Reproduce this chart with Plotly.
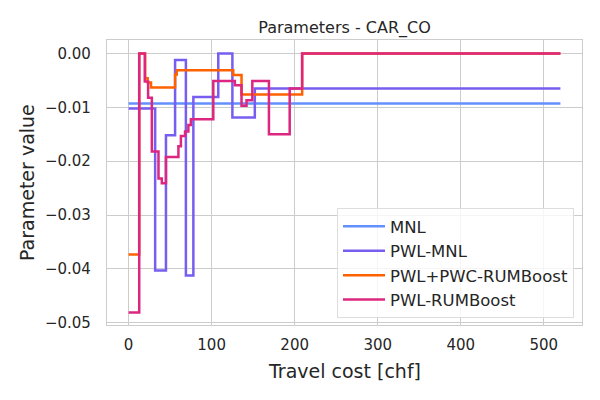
import plotly.graph_objects as go

# ---- data ----
cost_mnl = [0, 520]
val_mnl = [-0.0093, -0.0093]

cost_pwl_mnl = [0, 32, 45, 56, 69, 78, 108, 125, 152, 520]
val_pwl_mnl = [-0.0102, -0.0403, -0.0152, -0.0012, -0.0412, -0.0081, 0.0000, -0.0119, -0.0065, -0.0065]

cost_pwc = [0, 12.8, 20, 23, 27, 56, 58, 126, 136, 209, 520]
val_pwc = [-0.0373, 0.0, -0.0046, -0.0054, -0.0063, -0.0039, -0.0031, -0.0040, -0.0076, 0.0, 0.0]

cost_pwl_rb = [0, 12.8, 19.5, 23.5, 28, 36, 40, 45, 60, 63, 68, 72, 75, 102, 128, 136, 142, 149, 169, 194, 209, 520]
val_pwl_rb = [-0.0481, 0.0, -0.0052, -0.0082, -0.0182, -0.0232, -0.0241, -0.0192, -0.0172, -0.0153,
              -0.0145, -0.0133, -0.0122, -0.0051, -0.0059, -0.0097, -0.0087, -0.0051, -0.0150, -0.0065, 0.0, 0.0]

series_names = ["MNL", "PWL-MNL", "PWL+PWC-RUMBoost", "PWL-RUMBoost"]
series_colors = ["#648FFF", "#785EF0", "#FE6100", "#DC267F"]
x_ticks = [0, 100, 200, 300, 400, 500]
y_ticks = [0.0, -0.01, -0.02, -0.03, -0.04, -0.05]
y_tick_labels = ["0.00", "\u22120.01", "\u22120.02", "\u22120.03", "\u22120.04", "\u22120.05"]

TXT = "#262626"
GRID = "#cccccc"
FONT = "DejaVu Sans"

W, H = 600, 400
ML, MR, MT, MB = 107, 18, 40, 75
plot_w = W - ML - MR
plot_h = H - MT - MB

fig = go.Figure()
for xs, ys, name, col in zip(
    [cost_mnl, cost_pwl_mnl, cost_pwc, cost_pwl_rb],
    [val_mnl, val_pwl_mnl, val_pwc, val_pwl_rb],
    series_names, series_colors,
):
    fig.add_trace(go.Scatter(x=xs, y=ys, mode="lines", name=name,
                             line=dict(color=col, width=2.5, shape="hv")))

fig.update_layout(
    width=W, height=H,
    margin=dict(l=ML, r=MR, t=MT, b=MB, autoexpand=False),
    paper_bgcolor="white", plot_bgcolor="white",
    font=dict(family=FONT, color=TXT, size=15),
    title=dict(text="Parameters - CAR_CO", x=0.5, xref="paper", xanchor="center",
               y=1 - 27 / H, yref="container", yanchor="middle", automargin=False,
               font=dict(size=16, color=TXT, family=FONT)),
    legend=dict(x=1 - 8 / plot_w, y=7 / plot_h, xanchor="right", yanchor="bottom", itemwidth=42,
                bgcolor="rgba(255,255,255,0.8)", bordercolor="#dddddd", borderwidth=1,
                font=dict(size=16.5, color=TXT, family=FONT)),
    showlegend=True,
)
fig.add_annotation(text="Travel cost [chf]", xref="paper", yref="paper",
                   x=0.5, y=(H - MB - 371) / plot_h, xanchor="center", yanchor="middle",
                   showarrow=False, font=dict(size=19, color=TXT, family=FONT))
fig.add_annotation(text="Parameter value", xref="paper", yref="paper",
                   x=(27 - ML) / plot_w, y=(H - MB - 183) / plot_h, xanchor="center", yanchor="middle",
                   textangle=-90, showarrow=False, font=dict(size=19, color=TXT, family=FONT))

fig.update_xaxes(
    range=[-26, 546], tickvals=x_ticks, showgrid=True, gridcolor=GRID, gridwidth=1,
    zeroline=False, showline=True, mirror=True, linecolor=GRID, linewidth=1.3,
    ticks="", ticklabelstandoff=6, tickfont=dict(size=15, color=TXT), automargin=False,
)
fig.update_yaxes(
    range=[-0.0504, 0.0025], tickvals=y_ticks, ticktext=y_tick_labels, showgrid=True,
    gridcolor=GRID, gridwidth=1, zeroline=False, showline=True, mirror=True,
    linecolor=GRID, linewidth=1.3, ticks="", ticklabelstandoff=12,
    tickfont=dict(size=15, color=TXT), automargin=False,
)

fig.write_html("out.html", config={"displayModeBar": False},
               post_script="document.body.style.margin='0';")
